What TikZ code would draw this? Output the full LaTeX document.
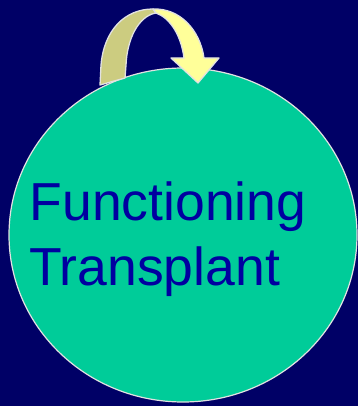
\documentclass[tikz,border=0pt]{standalone}
\usepackage{fontspec}
\setmainfont{Liberation Sans}
\definecolor{bgnavy}{RGB}{0,0,102}
\definecolor{disc}{RGB}{0,204,153}
\definecolor{txtblue}{RGB}{0,0,160}
\definecolor{khaki}{RGB}{204,204,128}
\definecolor{paleyellow}{RGB}{255,255,153}
\definecolor{rim}{RGB}{225,225,225}
\begin{document}
\begin{tikzpicture}[x=1pt,y=-1pt,
  label/.style={font=\fontsize{53.5}{53.5}\selectfont, text=txtblue, inner sep=0pt, anchor=base west},
  rimline/.style={draw=rim, line width=1.3pt, line join=round}]
\fill[bgnavy] (0,0) rectangle (358,406);
\useasboundingbox (0,0) rectangle (358,406);
% disc
\path[fill=disc, draw=rim, line width=1.2pt] (183,235) ellipse [x radius=174, y radius=167];
% curved arrow, rising leg
\path[fill=khaki, rimline] (100,85) -- (101,65) .. controls (104,30) and (125,9) .. (153,9)
  -- (156,13) .. controls (138,16) and (127,40) .. (126,65) -- (125,78) -- cycle;
% curved arrow, descending part with head
\path[fill=paleyellow, rimline] (153,9) .. controls (180,8) and (200,30) .. (204,58)
  -- (219,58) -- (198,83) -- (171,58) -- (184,58)
  .. controls (181,35) and (170,18) .. (156,13) -- cycle;
% text
\node[label] (l1) at (29.5,220.5) {Functioning};
\node[label] (l2) at (29,285.5) {Transplant};
\end{tikzpicture}
\end{document}
